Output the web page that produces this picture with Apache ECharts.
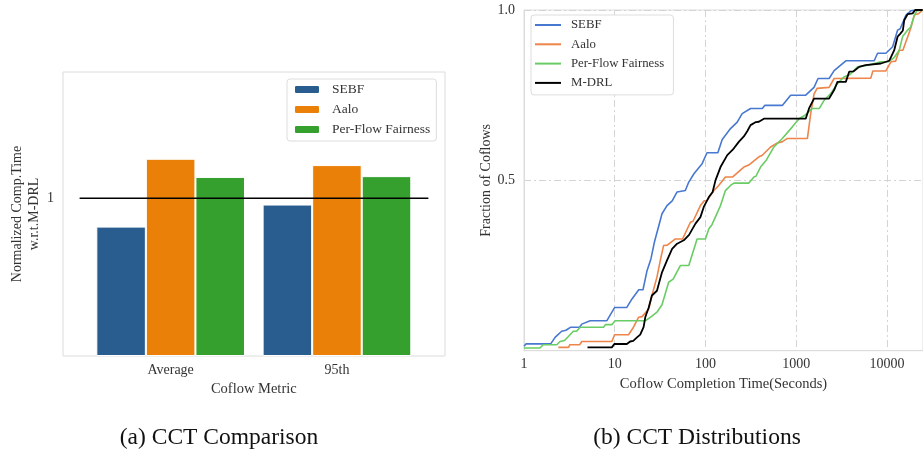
<!DOCTYPE html>
<html>
<head>
<meta charset="utf-8">
<script src="https://cdn.jsdelivr.net/npm/echarts@6/dist/echarts.min.js"></script>
<style>
html,body{margin:0;padding:0;background:#fff;}
#c{width:923px;height:455px;}
</style>
</head>
<body>
<div id="c"></div>
<script>
// ---------- (a) bar chart data ----------
const barCategories = ['Average', '95th'];
const sebfBar = [0.82, 0.96];
const aaloBar = [1.25, 1.21];
const pffBar = [1.135, 1.14];
const refLineX = [-0.55, 1.55];
const refLineY = [1, 1];

// ---------- (b) CDF data ----------
const sebfX = [1, 1.05, 1.97, 2.2, 2.6, 2.9, 3.28, 4.1, 4.33, 5.36, 8.2, 10, 13.6, 15.5, 18.4, 20.5, 22.7, 25.1, 27.4, 33.2, 37.7, 43, 48.7, 50.7, 60, 65.5, 68, 75, 91.9, 104, 137, 153, 189, 224, 254, 314, 423, 450, 703, 869, 1274, 1573, 1742, 2306, 2620, 3527, 7244, 7890, 9750, 11570, 13130, 14000, 16220, 18500, 20500];
const sebfY = [0.013, 0.02, 0.02, 0.039, 0.057, 0.06, 0.069, 0.069, 0.078, 0.088, 0.088, 0.127, 0.127, 0.152, 0.179, 0.179, 0.235, 0.27, 0.319, 0.402, 0.426, 0.44, 0.466, 0.47, 0.47, 0.495, 0.5, 0.52, 0.549, 0.581, 0.581, 0.62, 0.652, 0.671, 0.696, 0.711, 0.711, 0.72, 0.72, 0.75, 0.75, 0.773, 0.799, 0.799, 0.822, 0.851, 0.851, 0.873, 0.873, 0.892, 0.941, 0.945, 0.985, 0.998, 1.0];

const aaloX = [2.39, 3.1, 3.2, 4.1, 4.34, 9.3, 9.96, 14.2, 16.1, 18.3, 20, 23.7, 25.7, 29.2, 31.8, 34.6, 38, 46.6, 56, 68.3, 73, 88, 97, 104, 124, 140, 166, 200, 265, 300, 388, 420, 523, 620, 700, 800, 1330, 1446, 1573, 1700, 2306, 2620, 6650, 7000, 9750, 11070, 12500, 13680, 15000, 17200, 18500, 20050, 22500, 24800];
const aaloY = [0.0098, 0.0098, 0.0176, 0.0176, 0.027, 0.027, 0.047, 0.047, 0.069, 0.098, 0.1, 0.1225, 0.162, 0.216, 0.265, 0.309, 0.31, 0.328, 0.328, 0.377, 0.38, 0.426, 0.44, 0.441, 0.47, 0.485, 0.51, 0.51, 0.539, 0.545, 0.569, 0.573, 0.598, 0.61, 0.613, 0.623, 0.623, 0.696, 0.753, 0.77, 0.773, 0.799, 0.8, 0.821, 0.821, 0.848, 0.85, 0.882, 0.882, 0.926, 0.95, 0.985, 0.99, 1.0];

const pffX = [1, 1.5, 1.63, 2.3, 2.5, 2.8, 3.22, 3.5, 3.8, 4.16, 7.53, 7.9, 9.3, 10.1, 21.7, 24.7, 29.2, 33.2, 39.3, 44, 52.9, 65.5, 80.9, 100, 109, 118, 146.5, 166, 189, 206, 301, 342, 360, 405, 470, 569, 703, 908, 1075, 1250, 1510, 1800, 2032, 2406, 2853, 3380, 3900, 4740, 6200, 8590, 10300, 12000, 13680, 14900, 16940, 18300, 20050, 21500, 24800];
const pffY = [0.0078, 0.0078, 0.0176, 0.0176, 0.027, 0.03, 0.047, 0.057, 0.057, 0.069, 0.069, 0.0765, 0.0765, 0.088, 0.088, 0.098, 0.113, 0.135, 0.201, 0.21, 0.25, 0.25, 0.328, 0.328, 0.358, 0.37, 0.426, 0.47, 0.485, 0.492, 0.492, 0.51, 0.512, 0.539, 0.56, 0.598, 0.623, 0.657, 0.681, 0.691, 0.711, 0.711, 0.735, 0.755, 0.784, 0.804, 0.81, 0.833, 0.838, 0.848, 0.848, 0.86, 0.882, 0.922, 0.941, 0.95, 0.985, 0.998, 1.0];

const mdrlX = [5.01, 9.3, 9.9, 13.6, 14.8, 16, 17.6, 19.1, 20.8, 21.7, 23.7, 25.7, 29.2, 33.2, 37.7, 42.9, 48.7, 57.7, 66, 77.6, 88, 95.8, 109, 120, 129, 146.5, 174, 200, 233, 265, 290, 314, 360, 388, 441, 1274, 1386, 1573, 2306, 2620, 2850, 3527, 3838, 4300, 4945, 5800, 8590, 10600, 12050, 13130, 14000, 15000, 15530, 16940, 19200, 20500, 24800];
const mdrlY = [0.0098, 0.0098, 0.0196, 0.0196, 0.027, 0.029, 0.039, 0.047, 0.069, 0.098, 0.127, 0.162, 0.176, 0.23, 0.265, 0.299, 0.314, 0.324, 0.34, 0.373, 0.392, 0.422, 0.451, 0.466, 0.5, 0.539, 0.574, 0.59, 0.613, 0.629, 0.645, 0.662, 0.671, 0.672, 0.681, 0.681, 0.711, 0.74, 0.74, 0.765, 0.789, 0.789, 0.819, 0.82, 0.833, 0.838, 0.843, 0.851, 0.882, 0.922, 0.93, 0.94, 0.97, 0.988, 0.99, 1.0, 1.0];

const zip = (xs, ys) => xs.map((x, i) => [x, ys[i]]);
const F = 'Liberation Serif';
const TXT = '#333';
const FRAME = '#dcdcdc';
const GRIDLINE = { color: '#d4d4d4', width: 1, type: [7, 3, 2, 3] };

const chart = echarts.init(document.getElementById('c'), null, { renderer: 'canvas' });

const barSeries = (name, data, color) => ({
  type: 'bar', name, data, xAxisIndex: 1, yAxisIndex: 1,
  barGap: '0%', barCategoryGap: '10.6%',
  itemStyle: { color, borderColor: '#ffffff', borderWidth: 1 },
  z: 2
});
const cdfSeries = (name, xs, ys, color, w) => ({
  type: 'line', name, data: zip(xs, ys), xAxisIndex: 2, yAxisIndex: 2,
  symbol: 'none', showSymbol: false, smooth: false,
  lineStyle: { color, width: w }, itemStyle: { color },
  z: 3
});

const option = {
  animation: false,
  backgroundColor: '#ffffff',
  textStyle: { fontFamily: F },
  grid: [
    { left: 63, top: 72, width: 382, height: 284, show: true, borderColor: FRAME, borderWidth: 1, backgroundColor: '#fff', containLabel: false },
    { left: 87.5, top: 72, width: 332.6, height: 284, containLabel: false },
    { left: 524, top: 10, right: 0, height: 340.7, show: true, borderColor: FRAME, borderWidth: 1, containLabel: false }
  ],
  xAxis: [
    { gridIndex: 0, type: 'value', min: -0.65, max: 1.65, show: false },
    {
      gridIndex: 1, type: 'category', data: barCategories,
      axisLine: { show: false }, axisTick: { show: false },
      axisLabel: { margin: 7, fontSize: 14, color: TXT, fontFamily: F },
      name: 'Coflow Metric', nameLocation: 'middle', nameGap: 25,
      nameTextStyle: { fontSize: 14.5, color: TXT, fontFamily: F }
    },
    {
      gridIndex: 2, type: 'log', logBase: 10, min: 1, max: 25000,
      axisLine: { show: true, lineStyle: { color: FRAME } },
      axisTick: { show: false }, minorTick: { show: false },
      splitLine: { show: true, lineStyle: GRIDLINE },
      axisLabel: { margin: 7, fontSize: 14, color: TXT, fontFamily: F, showMaxLabel: false, formatter: v => String(Math.round(v)) },
      name: 'Coflow Completion Time(Seconds)', nameLocation: 'middle', nameGap: 24,
      nameTextStyle: { fontSize: 14.5, color: TXT, fontFamily: F }
    }
  ],
  yAxis: [
    {
      gridIndex: 0, type: 'value', min: 0, max: 1.8,
      axisLine: { show: false }, axisTick: { show: false }, splitLine: { show: false },
      axisLabel: { customValues: [1], margin: 9, fontSize: 14, color: TXT, fontFamily: F },
      name: 'Normalized Comp.Time\nw.r.t.M-DRL', nameLocation: 'middle', nameGap: 17, nameRotate: 90,
      nameTextStyle: { fontSize: 14, color: TXT, fontFamily: F, lineHeight: 17 }
    },
    { gridIndex: 1, type: 'value', min: 0, max: 1.8, show: false, splitLine: { show: false } },
    {
      gridIndex: 2, type: 'value', min: 0, max: 1, interval: 0.5,
      axisLine: { show: true, lineStyle: { color: FRAME } }, axisTick: { show: false },
      splitLine: { show: true, lineStyle: GRIDLINE },
      axisLabel: { margin: 9, fontSize: 14, color: TXT, fontFamily: F, formatter: v => (v === 0 ? '' : v.toFixed(1)) },
      name: 'Fraction of Coflows', nameLocation: 'middle', nameGap: 31, nameRotate: 90,
      nameTextStyle: { fontSize: 14, color: TXT, fontFamily: F }
    }
  ],
  legend: [
    {
      data: ['SEBF', 'Aalo', 'Per-Flow Fairness'],
      orient: 'vertical', left: 287, top: 79,
      itemWidth: 26, itemHeight: 9, itemGap: 5,
      padding: [3, 6, 4, 6],
      backgroundColor: '#fff', borderColor: '#dddddd', borderWidth: 1, borderRadius: 3,
      textStyle: { fontFamily: F, fontSize: 13.5, color: TXT, lineHeight: 15, padding: [0, 0, 0, 7] },
      selectedMode: false
    },
    {
      data: ['SEBF ', 'Aalo ', 'Per-Flow Fairness ', 'M-DRL'],
      orient: 'vertical', left: 531, top: 15,
      icon: 'rect',
      itemWidth: 26, itemHeight: 2, itemGap: 5.3,
      padding: [3, 6, 5, 4],
      backgroundColor: '#fff', borderColor: '#dddddd', borderWidth: 1, borderRadius: 3,
      textStyle: { fontFamily: F, fontSize: 12.8, color: TXT, lineHeight: 14, padding: [0, 0, 0, 5] },
      selectedMode: false
    }
  ],
  series: [
    barSeries('SEBF', sebfBar, '#2a5d8f'),
    barSeries('Aalo', aaloBar, '#eb8008'),
    barSeries('Per-Flow Fairness', pffBar, '#35a02e'),
    {
      type: 'line', name: 'ref', data: zip(refLineX, refLineY), xAxisIndex: 0, yAxisIndex: 0,
      symbol: 'none', lineStyle: { color: '#000', width: 1.6 }, z: 5, silent: true
    },
    cdfSeries('SEBF ', sebfX, sebfY, '#4878d0', 1.6),
    cdfSeries('Aalo ', aaloX, aaloY, '#ee854a', 1.6),
    cdfSeries('Per-Flow Fairness ', pffX, pffY, '#6acc64', 1.6),
    cdfSeries('M-DRL', mdrlX, mdrlY, '#000000', 1.8)
  ],
  graphic: [
    { type: 'text', x: 219, y: 438, style: { text: '(a) CCT Comparison', font: '23.5px "Liberation Serif"', fill: '#111', align: 'center', verticalAlign: 'middle', textAlign: 'center', textVerticalAlign: 'middle' } },
    { type: 'text', x: 697, y: 438, style: { text: '(b) CCT Distributions', font: '23.5px "Liberation Serif"', fill: '#111', align: 'center', verticalAlign: 'middle', textAlign: 'center', textVerticalAlign: 'middle' } }
  ]
};
chart.setOption(option);
</script>
</body>
</html>
